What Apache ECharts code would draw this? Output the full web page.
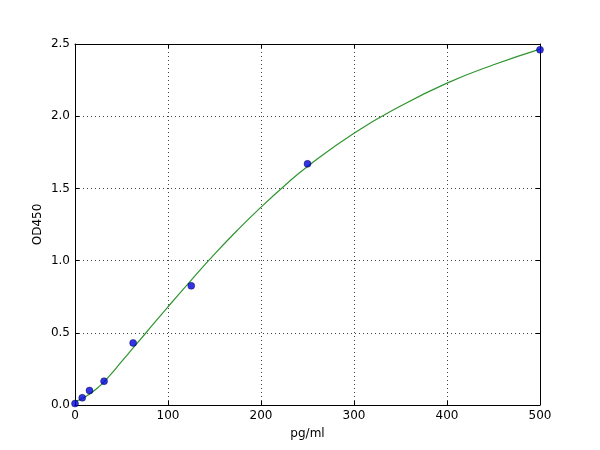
<!DOCTYPE html>
<html>
<head>
<meta charset="utf-8">
<script src="https://cdn.jsdelivr.net/npm/echarts@6/dist/echarts.min.js"></script>
<style>
html,body{margin:0;padding:0;background:#fff;}
#chart{width:600px;height:450px;}
</style>
</head>
<body>
<div id="chart"></div>
<script>
// Standard points (concentration pg/ml, OD450)
const pointsX = [0, 7.8, 15.6, 31.25, 62.5, 125, 250, 500];
const pointsY = [0.01, 0.05, 0.10, 0.165, 0.43, 0.825, 1.67, 2.46];
// Fitted curve
const curveX = [0, 12.5, 25, 37.5, 50, 62.5, 75, 100, 125, 150, 175, 200, 225, 250, 300, 350, 400, 450, 500];
const curveY = [0.023, 0.062, 0.122, 0.205, 0.30, 0.395, 0.49, 0.68, 0.865, 1.045, 1.213, 1.37, 1.517, 1.652, 1.882, 2.07, 2.229, 2.356, 2.465];
const xTicks = [0, 100, 200, 300, 400, 500];
const yTicks = [0.0, 0.5, 1.0, 1.5, 2.0, 2.5];

const font = 'DejaVu Sans';
const chart = echarts.init(document.getElementById('chart'), null, {renderer: 'canvas'});
const axisLine = {show: true, onZero: false, lineStyle: {color: '#000', width: 1}};
const tick = {show: true, inside: true, length: 4, lineStyle: {color: '#000', width: 1}};
const grid = {show: true, lineStyle: {color: '#444', width: 1, type: [1, 3]}};

chart.setOption({
  backgroundColor: '#fff',
  animation: false,
  grid: {left: 75, right: 60, top: 44, bottom: 45, containLabel: false},
  xAxis: [{
    type: 'value', min: xTicks[0], max: xTicks[xTicks.length - 1], interval: 100,
    position: 'bottom',
    name: 'pg/ml', nameLocation: 'middle', nameGap: 23,
    nameTextStyle: {color: '#000', fontFamily: font, fontSize: 12},
    axisLine: axisLine, axisTick: tick, splitLine: grid,
    axisLabel: {color: '#000', fontFamily: font, fontSize: 12, margin: 5}
  }, {
    type: 'value', min: xTicks[0], max: xTicks[xTicks.length - 1], interval: 100,
    position: 'top',
    axisLine: axisLine, axisTick: tick, splitLine: {show: false},
    axisLabel: {show: false}
  }],
  yAxis: [{
    type: 'value', min: yTicks[0], max: yTicks[yTicks.length - 1], interval: 0.5,
    position: 'left',
    name: 'OD450', nameLocation: 'middle', nameGap: 31, nameRotate: 90,
    nameMoveOverlap: false,
    nameTextStyle: {color: '#000', fontFamily: font, fontSize: 12},
    axisLine: axisLine, axisTick: tick, splitLine: grid,
    axisLabel: {color: '#000', fontFamily: font, fontSize: 12, margin: 5,
      formatter: v => v.toFixed(1)}
  }, {
    type: 'value', min: yTicks[0], max: yTicks[yTicks.length - 1], interval: 0.5,
    position: 'right',
    axisLine: axisLine, axisTick: tick, splitLine: {show: false},
    axisLabel: {show: false}
  }],
  series: [{
    type: 'line',
    xAxisIndex: 0, yAxisIndex: 0,
    data: curveX.map((x, i) => [x, curveY[i]]),
    smooth: 0.5,
    showSymbol: false,
    lineStyle: {color: '#2e952e', width: 1.2},
    z: 2
  }, {
    type: 'scatter',
    xAxisIndex: 0, yAxisIndex: 0,
    data: pointsX.map((x, i) => [x, pointsY[i]]),
    symbol: 'circle',
    symbolSize: 7,
    clip: false,
    itemStyle: {color: '#0000e0', borderColor: '#000020', borderWidth: 0.5},
    z: 3
  }]
});
</script>
</body>
</html>
